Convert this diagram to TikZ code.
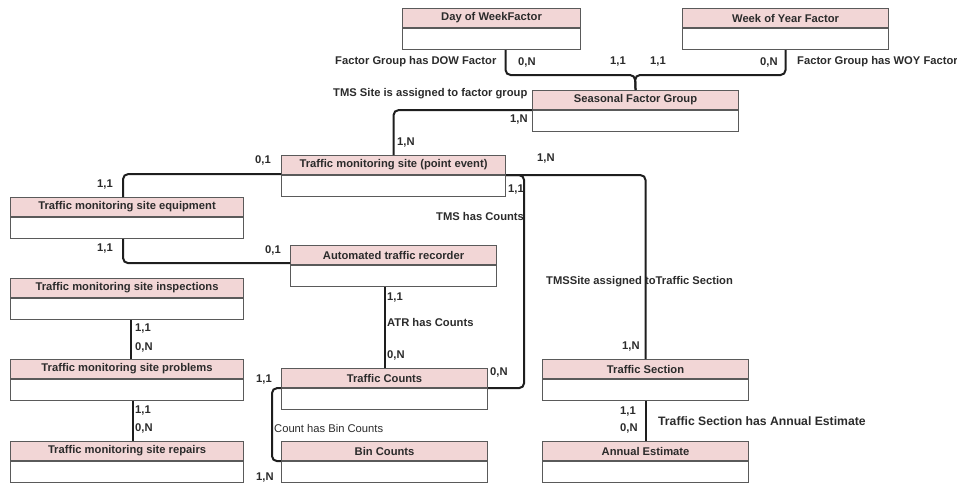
\documentclass[tikz,border=0pt]{standalone}
\usepackage{fontspec}
\setmainfont{Liberation Sans}
\usetikzlibrary{calc}
\definecolor{erpink}{HTML}{F2D6D6}
\definecolor{erframe}{HTML}{5A5A5A}
\definecolor{erline}{HTML}{1E1E1E}
\definecolor{ertext}{HTML}{2B2B2B}

\begin{document}
\begin{tikzpicture}[x=1pt, y=1pt,
  font=\fontsize{11.2}{13}\selectfont\bfseries,
  enthead/.style={draw=erframe, line width=1.1pt, fill=erpink, anchor=north west,
                  minimum height=19pt, inner sep=0pt, text=ertext},
  entbody/.style={draw=erframe, line width=1.1pt, fill=white, anchor=north,
                  minimum height=21pt, inner sep=0pt},
  rel/.style={erline, line width=2pt, rounded corners=5pt},
  card/.style={text=ertext, inner sep=0pt, anchor=west},
  rlabel/.style={text=ertext, inner sep=0pt, anchor=west},
]
\useasboundingbox (0,0) rectangle (957,-482);

% ---------------- entities -----------------------------------------
\foreach \n/\x/\y/\w/\t in {
    dow/402/-8/178/{Day of WeekFactor},
    woy/682/-8/206/{Week of Year Factor},
    sfg/532/-90/206/{Seasonal Factor Group},
    tms/281/-155/224/{Traffic monitoring site (point event)},
    tmse/10/-197/233/{Traffic monitoring site equipment},
    atr/290/-245/206/{Automated traffic recorder},
    tmsi/10/-278/233/{Traffic monitoring site inspections},
    tmsp/10/-359/233/{Traffic monitoring site problems},
    tmsr/10/-441/233/{Traffic monitoring site repairs},
    tc/281/-368/206/{Traffic Counts},
    bc/281/-441/206/{Bin Counts},
    ts/542/-359/206/{Traffic Section},
    ae/542/-441/206/{Annual Estimate}} {
  \node[enthead, minimum width=\w pt] (\n) at (\x,\y) {\t};
  \node[entbody, minimum width=\w pt] (\n-b) at (\n.south) {};
}

% ---------------- relationships ------------------------------------
\coordinate (jn) at (635,-75);
\draw[rel] ([xshift=14pt]dow-b.south) |- (jn) -- (sfg.north);
\draw[rel] (woy-b.south) |- (jn) -- (sfg.north);
\draw[rel] (sfg.south west) -| (tms.north);
\draw[rel] ([yshift=1pt]tms.south west) -| ([xshift=-4pt]tmse.north);
\draw[rel] ([xshift=-4pt]tmse-b.south) |- ([yshift=2pt]atr.south west);
\draw[rel] (tms.south east) -| (ts.north);
\draw[rel] (tms.south east) -- ++(18,0) |- (tc.south east);
\draw[rel] (tc.north |- atr-b.south) -- (tc.north);
\draw[rel] (tc.south west) -- ++(-9,0) |- (bc.south west);
\draw[rel] ([xshift=4pt]tmsi-b.south) -- ([xshift=4pt]tmsp.north);
\draw[rel] ([xshift=6pt]tmsp-b.south) -- ([xshift=6pt]tmsr.north);
\draw[rel] (ts-b.south) -- (ae.north);

% ---------------- cardinalities -------------------------------------
\foreach \n/\x/\y/\t in {
    c1/518/-62/{0,N}, c2/610/-62/{1,1}, c3/650/-62/{1,1}, c4/760/-62/{0,N},
    c5/510/-120/{1,N}, c6/397/-143/{1,N}, c7/255/-160/{0,1}, c8/97/-185/{1,1},
    c9/97/-249/{1,1}, c10/265/-250/{0,1}, c11/537/-159/{1,N}, c12/508/-190/{1,1},
    c13/622/-347/{1,N}, c14/387/-298/{1,1}, c15/387/-355/{0,N}, c16/490/-372/{0,N},
    c17/256/-380/{1,1}, c18/256/-478/{1,N}, c19/135/-329/{1,1}, c20/135/-347/{0,N},
    c21/135/-411/{1,1}, c22/135/-428/{0,N}, c23/620/-412/{1,1}, c24/620/-428/{0,N}}
  \node[card] (\n) at (\x,\y) {\t};

% ---------------- relationship names --------------------------------
\node[rlabel] (ldow) at (335,-62) {Factor Group has DOW Factor};
\node[rlabel] (lwoy) at (797,-62) {Factor Group has WOY Factor};
\node[rlabel] (lsfg) at (333,-94) {TMS Site is assigned to factor group};
\node[rlabel] (ltc) at (436,-216) {TMS has Counts};
\node[rlabel] (lts) at (546,-282) {TMSSite assigned toTraffic Section};
\node[rlabel] (latr) at (387,-322) {ATR has Counts};
\node[rlabel, font=\fontsize{11.2}{13}\selectfont] (lbc) at (274,-428) {Count has Bin Counts};
\node[rlabel, font=\fontsize{12.2}{14}\selectfont\bfseries] (lae) at (658,-421)
  {Traffic Section has Annual Estimate};

\end{tikzpicture}
\end{document}
